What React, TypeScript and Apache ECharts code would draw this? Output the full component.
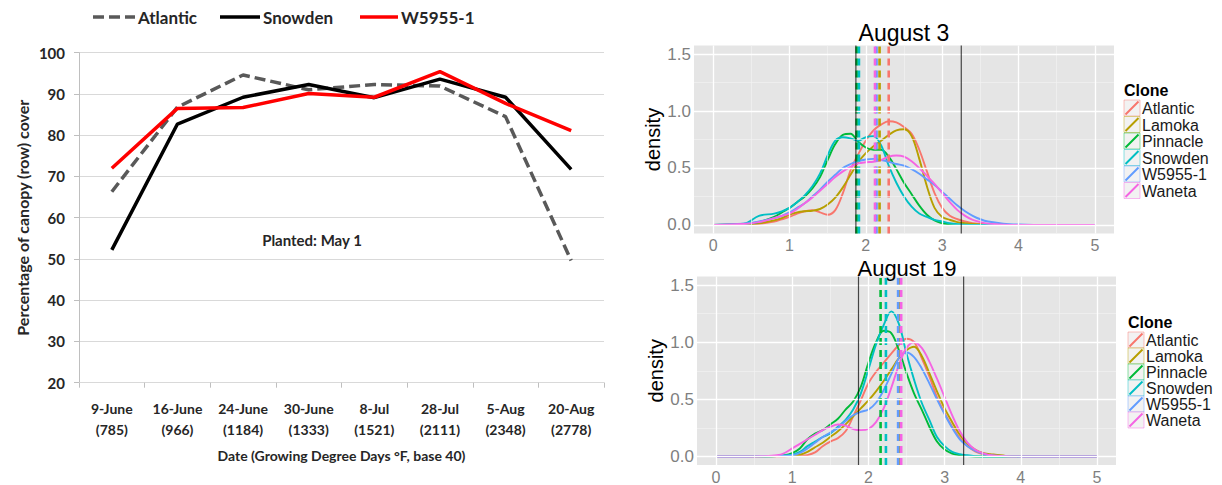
import React, { useEffect, useRef } from "react";
import * as echarts from "echarts";

// ---------- Left chart data ----------
const dates = ["9-June", "16-June", "24-June", "30-June", "8-Jul", "28-Jul", "5-Aug", "20-Aug"];
const gdd = [785, 966, 1184, 1333, 1521, 2111, 2348, 2778];
const coverNames = ["Atlantic", "Snowden", "W5955-1"];
const atlanticCover = [66.3, 86.8, 94.6, 91.0, 92.3, 91.9, 84.5, 49.6];
const snowdenCover = [52.2, 82.7, 89.2, 92.3, 89.1, 93.6, 89.2, 71.7];
const w5955Cover = [72.0, 86.5, 86.7, 90.1, 89.2, 95.4, 87.7, 81.1];
const coverTicks = [20, 100, 10];

// ---------- Density data ----------
const CLONES = ["Atlantic", "Lamoka", "Pinnacle", "Snowden", "W5955-1", "Waneta"];
const CLONE_COLORS = ["#F8766D", "#B79F00", "#00BA38", "#00BFC4", "#619CFF", "#F564E3"];
const densX = [0, 0.4, 0.6, 0.8, 0.9, 1.0, 1.1, 1.2, 1.3, 1.4, 1.5, 1.6, 1.7, 1.8, 1.9, 2.0, 2.1, 2.2, 2.3, 2.4, 2.5, 2.6, 2.7, 2.8, 2.9, 3.0, 3.1, 3.2, 3.3, 3.4, 3.5, 3.6, 3.8, 4.0, 4.2, 5.0];

// August 3
const aug3Atlantic = [0, 0.003, 0.01, 0.03, 0.05, 0.07, 0.10, 0.12, 0.13, 0.11, 0.09, 0.13, 0.28, 0.48, 0.62, 0.74, 0.83, 0.88, 0.91, 0.90, 0.86, 0.80, 0.66, 0.47, 0.28, 0.15, 0.08, 0.05, 0.03, 0.015, 0.008, 0.004, 0.001, 0, 0, 0];
const aug3Lamoka = [0, 0.005, 0.015, 0.04, 0.06, 0.09, 0.11, 0.12, 0.125, 0.14, 0.18, 0.24, 0.33, 0.44, 0.55, 0.63, 0.69, 0.74, 0.79, 0.83, 0.84, 0.78, 0.58, 0.34, 0.15, 0.07, 0.045, 0.025, 0.015, 0.008, 0.004, 0.002, 0, 0, 0, 0];
const aug3Pinnacle = [0, 0.008, 0.025, 0.07, 0.11, 0.15, 0.20, 0.25, 0.32, 0.42, 0.57, 0.71, 0.79, 0.80, 0.73, 0.68, 0.66, 0.66, 0.60, 0.49, 0.37, 0.27, 0.17, 0.09, 0.04, 0.015, 0.005, 0.002, 0, 0, 0, 0, 0, 0, 0, 0];
const aug3Snowden = [0, 0.01, 0.08, 0.10, 0.12, 0.15, 0.20, 0.26, 0.34, 0.45, 0.61, 0.74, 0.77, 0.76, 0.74, 0.77, 0.78, 0.70, 0.52, 0.37, 0.25, 0.16, 0.10, 0.07, 0.045, 0.03, 0.015, 0.006, 0.002, 0, 0, 0, 0, 0, 0, 0];
const aug3W5955 = [0, 0.01, 0.03, 0.06, 0.08, 0.11, 0.15, 0.19, 0.25, 0.31, 0.38, 0.44, 0.50, 0.535, 0.56, 0.575, 0.58, 0.57, 0.555, 0.535, 0.52, 0.49, 0.45, 0.40, 0.35, 0.29, 0.23, 0.17, 0.12, 0.08, 0.05, 0.03, 0.012, 0.004, 0.001, 0];
const aug3Waneta = [0, 0.008, 0.025, 0.06, 0.08, 0.10, 0.14, 0.19, 0.24, 0.30, 0.36, 0.42, 0.47, 0.51, 0.54, 0.55, 0.555, 0.57, 0.60, 0.61, 0.60, 0.56, 0.50, 0.43, 0.36, 0.28, 0.20, 0.13, 0.08, 0.045, 0.025, 0.012, 0.003, 0, 0, 0];

// August 19
const aug19Atlantic = [0, 0, 0, 0.001, 0.002, 0.004, 0.006, 0.012, 0.035, 0.09, 0.13, 0.16, 0.22, 0.35, 0.49, 0.64, 0.74, 0.82, 0.90, 0.975, 1.03, 1.00, 0.86, 0.70, 0.52, 0.38, 0.26, 0.16, 0.09, 0.045, 0.02, 0.01, 0.002, 0, 0, 0];
const aug19Lamoka = [0, 0, 0.001, 0.003, 0.005, 0.008, 0.015, 0.04, 0.08, 0.12, 0.17, 0.22, 0.28, 0.35, 0.42, 0.49, 0.57, 0.66, 0.76, 0.86, 0.93, 0.96, 0.88, 0.73, 0.57, 0.42, 0.30, 0.19, 0.11, 0.06, 0.03, 0.02, 0.005, 0.001, 0, 0];
const aug19Pinnacle = [0, 0, 0.001, 0.004, 0.01, 0.03, 0.07, 0.15, 0.20, 0.23, 0.28, 0.33, 0.41, 0.48, 0.61, 0.82, 1.00, 1.10, 1.08, 0.93, 0.73, 0.55, 0.41, 0.26, 0.13, 0.06, 0.025, 0.01, 0.003, 0, 0, 0, 0, 0, 0, 0];
const aug19Snowden = [0, 0, 0.001, 0.003, 0.008, 0.015, 0.04, 0.09, 0.13, 0.17, 0.20, 0.26, 0.32, 0.41, 0.55, 0.76, 0.98, 1.15, 1.27, 1.16, 0.90, 0.67, 0.47, 0.32, 0.17, 0.09, 0.04, 0.02, 0.01, 0.003, 0, 0, 0, 0, 0, 0];
const aug19W5955 = [0, 0, 0.001, 0.003, 0.006, 0.01, 0.03, 0.07, 0.12, 0.17, 0.21, 0.25, 0.31, 0.36, 0.39, 0.41, 0.47, 0.58, 0.72, 0.86, 0.91, 0.87, 0.77, 0.64, 0.50, 0.37, 0.25, 0.15, 0.09, 0.05, 0.025, 0.01, 0.003, 0, 0, 0];
const aug19Waneta = [0, 0, 0.002, 0.01, 0.03, 0.07, 0.11, 0.15, 0.19, 0.23, 0.26, 0.28, 0.27, 0.24, 0.23, 0.24, 0.30, 0.42, 0.60, 0.80, 0.95, 1.00, 0.95, 0.83, 0.68, 0.52, 0.36, 0.22, 0.12, 0.06, 0.03, 0.01, 0.002, 0, 0, 0];

const aug3Means = [2.30, 2.18, 1.88, 1.91, 2.14, 2.12];
const aug19Means = [2.41, 2.41, 2.16, 2.23, 2.39, 2.43];
const limitLines = [1.87, 3.25];
const densXTicks = [0, 1, 2, 3, 4, 5];
const densYTicks = [0, 0.5, 1.0, 1.5];
const densXMinor = [0.5, 1.5, 2.5, 3.5, 4.5];
const densYMinor = [0.25, 0.75, 1.25];
const panelTitles = ["August 3", "August 19"];
const X_RANGE = [-0.25, 5.25];
const Y_RANGE = [-0.075, 1.575];

const aug3Sets = [aug3Atlantic, aug3Lamoka, aug3Pinnacle, aug3Snowden, aug3W5955, aug3Waneta];
const aug19Sets = [aug19Atlantic, aug19Lamoka, aug19Pinnacle, aug19Snowden, aug19W5955, aug19Waneta];

const EXCEL_FONT = "Lato";
const GG_FONT = "Liberation Sans";
const COVER_COLORS = ["#595959", "#000000", "#FF0000"];
const COVER_DASH: any[] = [[11, 5], null, null];

function densitySeries(sets: number[][], means: number[], gi: number, tag: string) {
  const out: any[] = [];
  out.push({
    name: tag + " grid",
    type: "line",
    xAxisIndex: gi,
    yAxisIndex: gi,
    data: [],
    z: 1,
    silent: true,
    markLine: {
      silent: true,
      symbol: ["none", "none"],
      label: { show: false },
      animation: false,
      data: [
        ...densXMinor.map((v) => ({ xAxis: v, lineStyle: { color: "#F2F2F2", width: 0.7, type: "solid" } })),
        ...densYMinor.map((v) => ({ yAxis: v, lineStyle: { color: "#F2F2F2", width: 0.7, type: "solid" } })),
        ...densXTicks.map((v) => ({ xAxis: v, lineStyle: { color: "#FFFFFF", width: 1.3, type: "solid" } })),
        ...densYTicks.map((v) => ({ yAxis: v, lineStyle: { color: "#FFFFFF", width: 1.3, type: "solid" } })),
      ],
    },
  });
  sets.forEach((arr, k) => {
    out.push({
      name: tag + " " + CLONES[k],
      type: "line",
      xAxisIndex: gi,
      yAxisIndex: gi,
      data: densX.map((x, i) => [x, arr[i]]),
      smooth: 0.35,
      showSymbol: false,
      symbol: "none",
      z: 3,
      lineStyle: { color: CLONE_COLORS[k], width: 1.9 },
    });
  });
  means.forEach((m, k) => {
    out.push({
      name: tag + " mean " + CLONES[k],
      type: "line",
      xAxisIndex: gi,
      yAxisIndex: gi,
      data: [[m, Y_RANGE[0]], [m, Y_RANGE[1]]],
      symbol: "none",
      z: 4,
      lineStyle: { color: CLONE_COLORS[k], width: 2.6, type: [7, 5] },
    });
  });
  limitLines.forEach((m, k) => {
    out.push({
      name: tag + " limit " + k,
      type: "line",
      xAxisIndex: gi,
      yAxisIndex: gi,
      data: [[m, Y_RANGE[0]], [m, Y_RANGE[1]]],
      symbol: "none",
      z: 5,
      lineStyle: { color: "rgba(0,0,0,0.7)", width: 1.2 },
    });
  });
  return out;
}

function cloneLegend(x: number, y: number, step: number) {
  const children: any[] = [
    {
      type: "text",
      x: x,
      y: y - 10,
      style: { text: "Clone", font: `bold 16px "${GG_FONT}"`, fill: "#000", textVerticalAlign: "middle" },
    },
  ];
  CLONES.forEach((c, i) => {
    const top = y + i * step;
    children.push({
      type: "rect",
      shape: { x: x, y: top, width: 16, height: 16 },
      style: { fill: "#F2F2F2", stroke: CLONE_COLORS[i], lineWidth: 1, strokeOpacity: 0.45 },
    });
    children.push({
      type: "line",
      shape: { x1: x + 1.5, y1: top + 14.5, x2: x + 14.5, y2: top + 1.5 },
      style: { stroke: CLONE_COLORS[i], lineWidth: 2 },
    });
    children.push({
      type: "text",
      x: x + 18,
      y: top + 8.5,
      style: { text: c, font: `16px "${GG_FONT}"`, fill: "#1a1a1a", textVerticalAlign: "middle" },
    });
  });
  return children;
}

function coverLegend() {
  const iconX = [[93, 135], [220, 260], [360, 398]];
  const y = 17;
  const children: any[] = [];
  coverNames.forEach((n, i) => {
    children.push({
      type: "line",
      shape: { x1: iconX[i][0], y1: y, x2: iconX[i][1], y2: y },
      style: {
        stroke: COVER_COLORS[i],
        lineWidth: 3.5,
        lineDash: COVER_DASH[i] || null,
      },
    });
    children.push({
      type: "text",
      x: iconX[i][1] + 3,
      y: y,
      style: {
        text: n,
        font: `bold 17px "${EXCEL_FONT}"`,
        fill: "#262626",
        textVerticalAlign: "middle",
      },
    });
  });
  return children;
}

function densAxisX(gi: number) {
  return {
    type: "value",
    gridIndex: gi,
    min: X_RANGE[0],
    max: X_RANGE[1],
    axisLine: { show: false },
    splitLine: { show: false },
    axisTick: { show: true, customValues: densXTicks, length: 4, lineStyle: { color: "#7F7F7F" } },
    axisLabel: {
      customValues: densXTicks,
      color: "#7F7F7F",
      fontSize: 16,
      fontFamily: GG_FONT,
      margin: 4,
      formatter: (v: number) => String(v),
    },
  };
}

function densAxisY(gi: number) {
  return {
    type: "value",
    gridIndex: gi,
    min: Y_RANGE[0],
    max: Y_RANGE[1],
    name: "density",
    nameLocation: "middle",
    nameGap: 28,
    nameTextStyle: { color: "#000", fontSize: 20, fontFamily: GG_FONT },
    axisLine: { show: false },
    splitLine: { show: false },
    axisTick: { show: true, customValues: densYTicks, length: 4, lineStyle: { color: "#7F7F7F" } },
    axisLabel: {
      customValues: densYTicks,
      color: "#7F7F7F",
      fontSize: 17,
      fontFamily: GG_FONT,
      margin: 3,
      formatter: (v: number) => v.toFixed(1),
    },
  };
}

export default function App() {
  const ref = useRef<HTMLDivElement>(null);
  useEffect(() => {
    if (!ref.current) return;
    const chart = echarts.init(ref.current, undefined, { renderer: "svg" });
    const categories = dates.map((d, i) => `${d}\n(${gdd[i]})`);
    const coverData = [atlanticCover, snowdenCover, w5955Cover];
    const option: any = {
      animation: false,
      backgroundColor: "#FFFFFF",
      grid: [
        { left: 79, top: 52.7, width: 525, height: 330, show: false },
        { left: 694, top: 45.5, width: 420, height: 188, show: true, backgroundColor: "#E5E5E5", borderWidth: 0 },
        { left: 697, top: 276.5, width: 419, height: 189, show: true, backgroundColor: "#E5E5E5", borderWidth: 0 },
      ],
      xAxis: [
        {
          type: "category",
          gridIndex: 0,
          data: categories,
          boundaryGap: true,
          name: "Date (Growing Degree Days \u00B0F, base 40)",
          nameLocation: "middle",
          nameGap: 66,
          nameTextStyle: { fontFamily: EXCEL_FONT, fontWeight: "bold", fontSize: 14, color: "#262626" },
          axisLine: { show: true, lineStyle: { color: "#D9D9D9", width: 1 } },
          axisTick: { show: true, length: 5, lineStyle: { color: "#BFBFBF" } },
          axisLabel: {
            interval: 0,
            fontFamily: EXCEL_FONT,
            fontWeight: "bold",
            fontSize: 14,
            color: "#262626",
            lineHeight: 21,
            margin: 15,
          },
        },
        densAxisX(1),
        densAxisX(2),
      ],
      yAxis: [
        {
          type: "value",
          gridIndex: 0,
          min: coverTicks[0],
          max: coverTicks[1],
          interval: coverTicks[2],
          name: "Percentage of canopy (row) cover",
          nameLocation: "middle",
          nameGap: 49,
          nameTextStyle: { fontFamily: EXCEL_FONT, fontWeight: "bold", fontSize: 16, color: "#262626" },
          axisLine: { show: true, lineStyle: { color: "#BFBFBF", width: 1 } },
          axisTick: { show: true, length: 5, lineStyle: { color: "#BFBFBF" } },
          splitLine: { show: true, lineStyle: { color: "#D9D9D9", width: 1 } },
          axisLabel: { fontFamily: EXCEL_FONT, fontWeight: "bold", fontSize: 15, color: "#262626", margin: 14 },
        },
        densAxisY(1),
        densAxisY(2),
      ],
      series: [
        ...coverNames.map((n, i) => ({
          name: n,
          type: "line",
          xAxisIndex: 0,
          yAxisIndex: 0,
          data: coverData[i],
          symbol: "none",
          z: 3 + i,
          lineStyle: { color: COVER_COLORS[i], width: 3.5, type: COVER_DASH[i] || "solid" },
          itemStyle: { color: COVER_COLORS[i] },
        })),
        ...densitySeries(aug3Sets, aug3Means, 1, "Aug3"),
        ...densitySeries(aug19Sets, aug19Means, 2, "Aug19"),
      ],
      graphic: [
        { type: "group", children: coverLegend() },
        {
          type: "text",
          x: 312,
          y: 240,
          style: {
            text: "Planted: May 1",
            font: `bold 15px "${EXCEL_FONT}"`,
            fill: "#262626",
            textAlign: "center",
            textVerticalAlign: "middle",
          },
        },
        {
          type: "text",
          x: 904,
          y: 33,
          style: { text: panelTitles[0], font: `23px "${GG_FONT}"`, fill: "#000", textAlign: "center", textVerticalAlign: "middle" },
        },
        {
          type: "text",
          x: 907,
          y: 268,
          style: { text: panelTitles[1], font: `22px "${GG_FONT}"`, fill: "#000", textAlign: "center", textVerticalAlign: "middle" },
        },
        { type: "group", children: cloneLegend(1124, 100, 16.5) },
        { type: "group", children: cloneLegend(1128, 332, 16) },
      ],
    };
    chart.setOption(option);
    return () => chart.dispose();
  }, []);
  return (
    <div
      ref={ref}
      style={{ position: "fixed", left: 0, top: 0, width: 1222, height: 485, background: "#fff" }}
    />
  );
}
